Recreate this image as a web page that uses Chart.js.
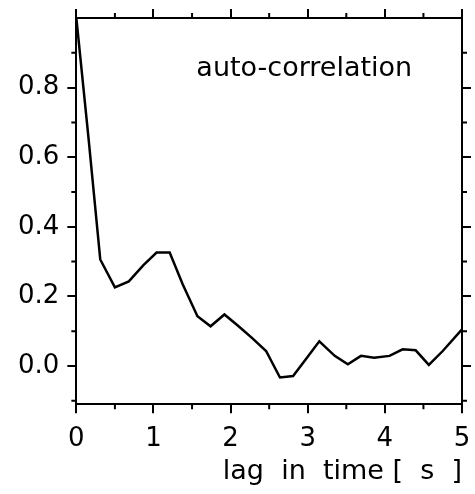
<!DOCTYPE html>
<html>
<head>
<meta charset="utf-8">
<script src="https://cdn.jsdelivr.net/npm/chart.js@4.4.0/dist/chart.umd.min.js"></script>
<style>
  html, body { margin: 0; padding: 0; background: #fff; }
  #wrap { width: 475px; height: 494px; }
</style>
</head>
<body>
<div id="wrap"><canvas id="chart"></canvas></div>
<script>
'use strict';

// values
const lagTimes = [0, 0.16, 0.31, 0.50, 0.68, 0.87, 1.04, 1.21, 1.38, 1.57, 1.74, 1.92, 2.10, 2.28,
    2.46, 2.64, 2.81, 2.98, 3.15, 3.35, 3.52, 3.69, 3.86, 4.06, 4.23, 4.40, 4.57, 4.75, 5.00];
const correlation = [1.0, 0.65, 0.306, 0.226, 0.243, 0.29, 0.326, 0.326, 0.234, 0.143, 0.114, 0.148, 0.115, 0.08,
    0.043, -0.033, -0.029, 0.021, 0.071, 0.029, 0.005, 0.029, 0.024, 0.029, 0.048, 0.045, 0.003, 0.043, 0.105];

const xMajorTicks = [0, 1, 2, 3, 4, 5];
const xMinorTicks = [0.5, 1.5, 2.5, 3.5, 4.5];
const yMajorTicks = [0, 0.2, 0.4, 0.6, 0.8];
const yMinorTicks = [-0.1, 0.1, 0.3, 0.5, 0.7, 0.9];

const curveLabel = 'auto-correlation';
const xTitle = 'lag  in  time [  s  ]';

const fontFamily = '"DejaVu Sans", sans-serif';

function setTicks(values) {
    return (axis) => { axis.ticks = values.map(v => ({ value: v })); };
}

// no extra room for end labels, the layout padding takes care of it
function noEndPadding(axis) {
    axis.paddingTop = 0;
    axis.paddingBottom = 0;
    axis.paddingLeft = 0;
    axis.paddingRight = 0;
}

const frameGrid = { drawOnChartArea: false, drawTicks: true, tickLength: 9, color: '#000', lineWidth: 2 };
const frameBorder = { display: true, color: '#000', width: 2 };

// minor tick marks on all four sides plus the label inside the plot
const extras = {
    id: 'extras',
    afterDraw(chart) {
        const ctx = chart.ctx;
        const area = chart.chartArea;
        const xs = chart.scales.x;
        const ys = chart.scales.y;
        ctx.save();
        ctx.strokeStyle = '#000';
        ctx.lineWidth = 2;
        ctx.beginPath();
        xMinorTicks.forEach(v => {
            const px = xs.getPixelForValue(v);
            ctx.moveTo(px, area.bottom);
            ctx.lineTo(px, area.bottom + 5);
            ctx.moveTo(px, area.top);
            ctx.lineTo(px, area.top - 5);
        });
        yMinorTicks.forEach(v => {
            const py = ys.getPixelForValue(v);
            ctx.moveTo(area.left, py);
            ctx.lineTo(area.left - 5, py);
            ctx.moveTo(area.right, py);
            ctx.lineTo(area.right + 5, py);
        });
        ctx.stroke();

        ctx.fillStyle = '#000';
        ctx.font = '27px ' + fontFamily;
        ctx.textAlign = 'left';
        ctx.textBaseline = 'alphabetic';
        ctx.fillText(curveLabel, area.left + 120, area.top + 58);
        ctx.restore();
    }
};

const canvasChart = document.getElementById('chart');
const chart = new Chart(canvasChart, {
    type: 'line',
    data: {
        datasets: [{
            label: curveLabel,
            data: lagTimes.map((t, i) => ({ x: t, y: correlation[i] })),
            borderColor: '#000',
            borderWidth: 2.5,
            pointRadius: 0,
            tension: 0,
            fill: false
        }]
    },
    options: {
        responsive: true,
        maintainAspectRatio: false,
        animation: false,
        events: [],
        layout: { padding: { left: 10, right: 4, top: 9, bottom: 16 } },
        plugins: {
            legend: { display: false },
            tooltip: { enabled: false }
        },
        scales: {
            x: {
                type: 'linear',
                position: 'bottom',
                min: 0,
                max: 5,
                afterBuildTicks: setTicks(xMajorTicks),
                afterFit: noEndPadding,
                grid: frameGrid,
                border: frameBorder,
                ticks: {
                    color: '#000',
                    padding: 12,
                    maxRotation: 0,
                    font: { family: fontFamily, size: 26, lineHeight: 1.1 },
                    callback: v => String(v)
                },
                title: {
                    display: true,
                    text: xTitle,
                    align: 'end',
                    color: '#000',
                    font: { family: fontFamily, size: 27, lineHeight: 0.45 },
                    padding: { top: 0, bottom: 0 }
                }
            },
            x2: {
                type: 'linear',
                position: 'top',
                min: 0,
                max: 5,
                afterBuildTicks: setTicks(xMajorTicks),
                afterFit: noEndPadding,
                grid: frameGrid,
                border: frameBorder,
                ticks: { display: false }
            },
            y: {
                type: 'linear',
                position: 'left',
                min: -0.11,
                max: 1.0,
                afterBuildTicks: setTicks(yMajorTicks),
                afterFit: noEndPadding,
                grid: frameGrid,
                border: frameBorder,
                ticks: {
                    color: '#000',
                    padding: 8,
                    font: { family: fontFamily, size: 26 },
                    callback: v => v.toFixed(1)
                }
            },
            y2: {
                type: 'linear',
                position: 'right',
                min: -0.11,
                max: 1.0,
                afterBuildTicks: setTicks(yMajorTicks),
                afterFit: noEndPadding,
                grid: frameGrid,
                border: frameBorder,
                ticks: { display: false }
            }
        }
    },
    plugins: [extras]
});
</script>
</body>
</html>
